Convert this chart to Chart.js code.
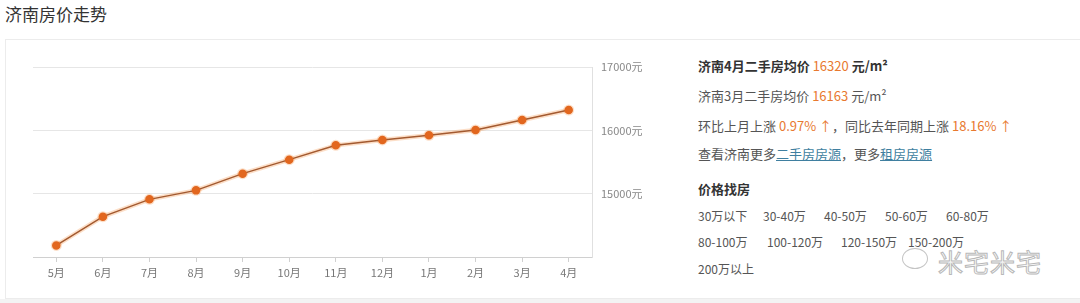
<!DOCTYPE html>
<html>
<head>
<meta charset="utf-8">
<script src="https://cdn.jsdelivr.net/npm/chart.js@4"></script>
<style>
  html, body { margin: 0; padding: 0; background: #fff; }
  body { width: 1080px; height: 303px; position: relative; overflow: hidden;
         font-family: "Noto Sans CJK SC", "Noto Sans", sans-serif; color: #555; }
  .title { position: absolute; left: 5px; top: 2px; font-size: 17px; color: #333; line-height: 24px; }
  .card { position: absolute; left: 5px; top: 39px; width: 1090px; height: 260px;
          border: 1px solid #ececec; box-sizing: border-box; background: #fff; }
  .bottom { position: absolute; left: 0; top: 299px; width: 1080px; height: 4px; background: #f3f3f3; }
  #wrap { position: absolute; left: 0; top: 40px; width: 680px; height: 262px; }
  .info { position: absolute; left: 698px; font-size: 13px; line-height: 18px; white-space: nowrap; }
  .b { font-weight: bold; color: #333; }
  .o { color: #e8792f; }
  .lnk { color: #3f7fa0; text-decoration: underline; }
  .price { position: absolute; font-size: 12px; line-height: 16px; color: #555; white-space: nowrap; }
  .wm { position: absolute; left: 938px; top: 243px; font-size: 25px; color: #fff;
        -webkit-text-stroke: 1px #b8b8b8; letter-spacing: 1px; }
  .wmi { position: absolute; left: 902px; top: 248px; width: 24px; height: 19px;
         border: 1px solid #c4c4c4; border-radius: 50%; }
</style>
</head>
<body>
<div class="title">济南房价走势</div>
<div class="card"></div>
<div class="bottom"></div>
<div id="wrap"><canvas id="c" width="680" height="262"></canvas></div>

<div class="info b" style="top:57px">济南4月二手房均价 <span class="o" style="font-weight:normal">16320</span> 元/m²</div>
<div class="info" style="top:87px">济南3月二手房均价 <span class="o">16163</span> 元/m²</div>
<div class="info" style="top:117px">环比上月上涨 <span class="o">0.97% ↑</span>，同比去年同期上涨 <span class="o">18.16% ↑</span></div>
<div class="info" style="top:145px">查看济南更多<span class="lnk">二手房房源</span>，更多<span class="lnk">租房房源</span></div>
<div class="info b" style="top:180px">价格找房</div>

<div class="price" style="left:698px;top:208px">30万以下</div>
<div class="price" style="left:763px;top:208px">30-40万</div>
<div class="price" style="left:824px;top:208px">40-50万</div>
<div class="price" style="left:885px;top:208px">50-60万</div>
<div class="price" style="left:946px;top:208px">60-80万</div>
<div class="price" style="left:698px;top:234px">80-100万</div>
<div class="price" style="left:767px;top:234px">100-120万</div>
<div class="price" style="left:841px;top:234px">120-150万</div>
<div class="price" style="left:908px;top:234px">150-200万</div>
<div class="price" style="left:698px;top:261px">200万以上</div>

<div class="wmi"></div>
<div class="wm">米宅米宅</div>

<script>
const months = ['5月', '6月', '7月', '8月', '9月', '10月', '11月', '12月', '1月', '2月', '3月', '4月'];
const prices = [14183, 14637, 14910, 15052, 15316, 15537, 15763, 15848, 15921, 16006, 16163, 16320];
const yTicks = [15000, 16000, 17000];

const ctx = document.getElementById('c').getContext('2d');

new Chart(ctx, {
  type: 'line',
  data: {
    labels: months,
    datasets: [
      {
        label: 'price',
        data: prices,
        borderColor: '#a35a30',
        borderWidth: 1.5,
        pointBackgroundColor: '#e2671f',
        pointBorderColor: '#e2671f',
        pointRadius: 3.5,
        tension: 0,
        order: 1
      },
      {
        label: 'glow',
        data: prices,
        borderColor: 'rgba(245, 145, 70, 0.3)',
        borderWidth: 4.5,
        pointBackgroundColor: 'rgba(245, 145, 70, 0.3)',
        pointBorderColor: 'rgba(245, 145, 70, 0)',
        pointRadius: 5.5,
        tension: 0,
        order: 2
      }
    ]
  },
  options: {
    responsive: false,
    animation: false,
    layout: { padding: { left: 33, top: 27, right: 0, bottom: 0 } },
    plugins: { legend: { display: false }, tooltip: { enabled: false } },
    scales: {
      x: {
        offset: true,
        afterFit: s => { s.height = 45; },
        grid: { display: true, offset: false, drawOnChartArea: false, drawTicks: true, tickLength: 5, color: '#d0d0d0' },
        border: { display: true, color: '#d0d0d0' },
        ticks: { color: '#777', font: { size: 11, family: '"Noto Sans CJK SC", sans-serif' }, padding: 4, maxRotation: 0 }
      },
      y: {
        position: 'right',
        min: 14000,
        max: 17000,
        afterFit: s => { s.width = 88; },
        afterBuildTicks: s => { s.ticks = [14000].concat(yTicks).map(v => ({ value: v })); },
        grid: { color: '#e6e6e6', drawTicks: false },
        border: { display: true, color: '#e0e0e0' },
        ticks: {
          padding: 9,
          color: '#888',
          font: { size: 11, family: '"Noto Sans CJK SC", sans-serif' },
          callback: v => yTicks.includes(v) ? v + '元' : ''
        }
      }
    }
  }
});
</script>
</body>
</html>
